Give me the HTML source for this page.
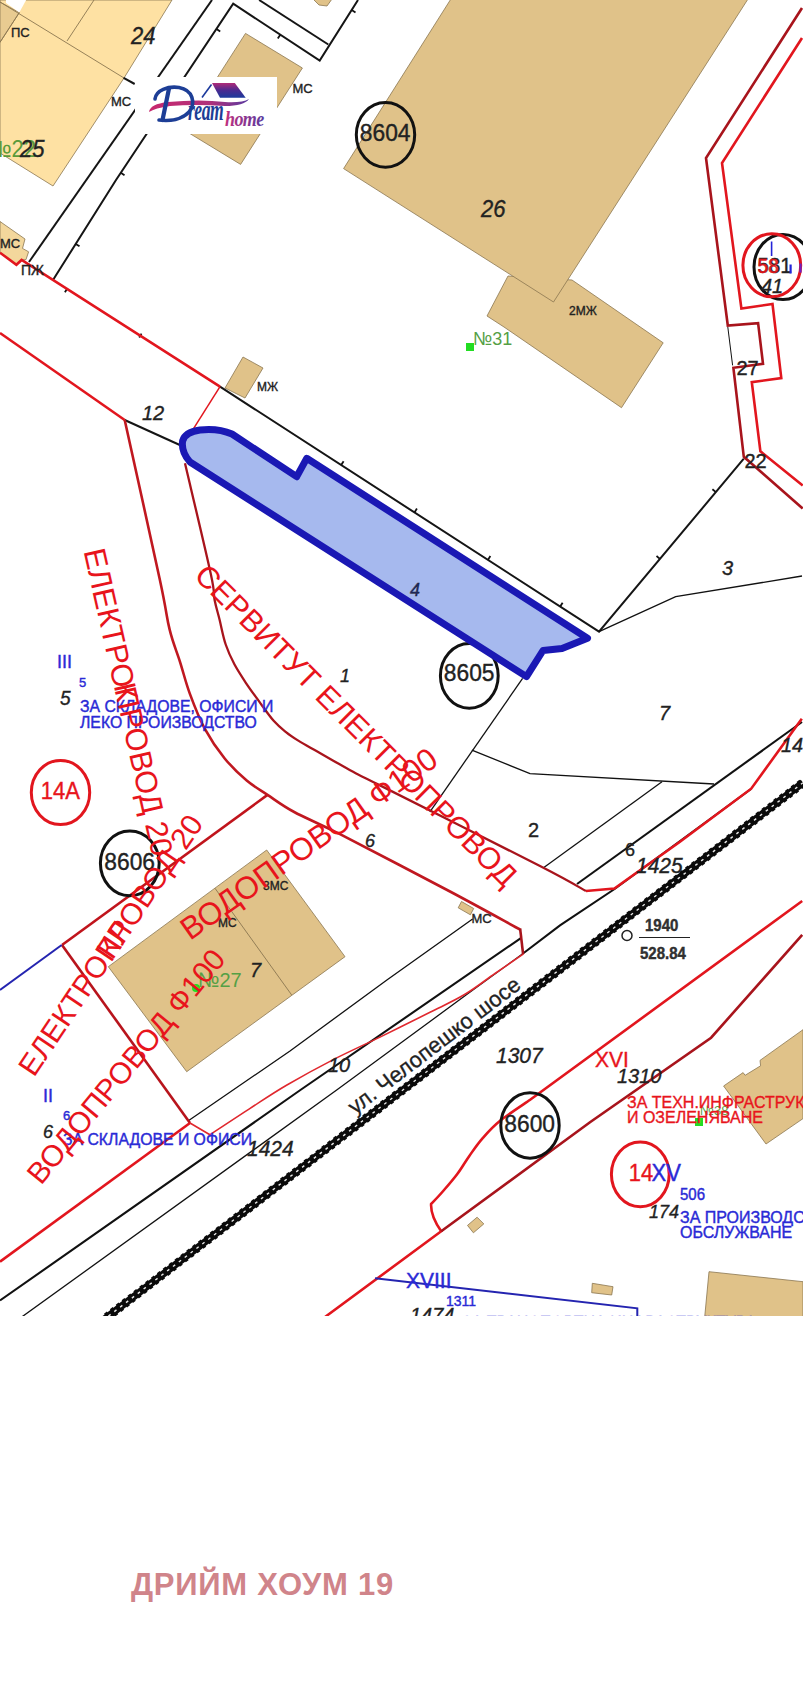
<!DOCTYPE html>
<html><head><meta charset="utf-8">
<style>
html,body{margin:0;padding:0;background:#fff;}
body{width:809px;height:1685px;position:relative;overflow:hidden;font-family:"Liberation Sans",sans-serif;}
#map{position:absolute;left:0;top:0;}
#title{position:absolute;left:0;top:1316px;}
</style></head><body>
<svg id="map" width="809" height="1316" viewBox="0 0 809 1316" font-family="Liberation Sans, sans-serif">
<rect x="0" y="0" width="809" height="1316" fill="#fff"/>
<g fill="#e0c289" stroke="#8a7650" stroke-width="0.8">
<polygon points="0,0 172,0 124,78 53,186 0,153" fill="#fee1a3"/>
<polygon points="0,2 19.3,12.6 0,42.3" fill="#e8cb91"/>
<polygon points="5.9,-1 26.7,-1 19.3,12.6 6,3" fill="#fff" stroke="none"/>
<polygon points="245.5,33.4 302.4,68 240.6,164.4 183.7,129.8"/>
<polygon points="313,-1 332,-1 327,6 319,5"/>
<polygon points="508,276 572,280 663.2,342.8 621.5,407.7 504,327 487,316"/>
<polygon points="450.9,-1 748,-1 553.5,302 343.6,168.6"/>
<polygon points="225,388 243,357 263,368 245,398"/>
<polygon points="458.2,907.8 461.5,901.5 473.7,908.5 470.4,914.8"/>
<polygon points="108.3,966.7 266.7,850 345,956.7 186.7,1071.7"/>
<polygon points="723.6,1086 743.1,1072.6 745.1,1075.3 760.6,1065.8 760,1060.4 803,1029.7 803,1118.6 766,1144"/>
<polygon points="467.5,1225.4 477.1,1217.2 483.8,1223.9 473.4,1232.8"/>
<polygon points="592.3,1283.3 613,1286.7 611.7,1295 591.7,1292.7"/>
<polygon points="709,1271.7 803,1281.7 803,1317 704.7,1317"/>
<polygon points="0,221.5 25,239 22.5,248.4 28.6,251.8 26,259.6 21.6,260 16.4,264.8 0,253" fill="#f3d79c"/>
</g>
<g stroke="#8a7650" stroke-width="0.9" fill="none">
<line x1="0" y1="2" x2="124" y2="78"/>
<line x1="94" y1="0" x2="67" y2="41"/>
<line x1="19.3" y1="12.6" x2="0" y2="42.3"/>
<line x1="215" y1="888.3" x2="291.7" y2="995"/>
</g>
<g stroke="#151515" stroke-width="2" fill="none" stroke-linejoin="miter">
<polyline points="212,0 29,262"/>
<polyline points="53,280 116,180 233.2,3.7 319.7,60.6 358,0"/>
<polyline points="259.1,0 328.3,44.5"/>
<line x1="123.6" y1="77.9" x2="134.7" y2="84"/>
<polyline points="220,386.7 599,631.7 743.8,458.7"/>
<line x1="124.7" y1="420" x2="182" y2="446"/>
</g>
<g stroke="#111" stroke-width="1.3" fill="none">
<polyline points="599,631.7 675.7,596.7 802,576"/>
<polyline points="522.6,678.4 429.9,811.9"/>
<polyline points="471.9,750.1 530,773.6 714,784"/>
<polyline points="543.5,867.7 662,781.7"/>
<polyline points="188,1121 290,1051 386.9,980 472.6,919"/>
<polyline points="21.7,1317 336.7,1090 430,1021.5 465,995.8 523.7,953"/>
</g>
<g stroke="#111" stroke-width="2.1" fill="none">
<polyline points="577,884 802,722"/>
<polyline points="0,1300.5 300.4,1090 520.5,938.3"/>
<polyline points="523.7,953 560,925.4 614.6,889 751,789"/>
</g>
<line x1="216.5" y1="28.9" x2="220.2" y2="31.4" stroke="#111" stroke-width="1.8"/>
<line x1="280.3" y1="34.7" x2="277.8" y2="38.5" stroke="#111" stroke-width="1.8"/>
<line x1="351.7" y1="10.0" x2="355.5" y2="12.4" stroke="#111" stroke-width="1.8"/>
<line x1="120.8" y1="172.8" x2="124.5" y2="175.3" stroke="#111" stroke-width="1.8"/>
<line x1="75.7" y1="243.9" x2="79.5" y2="246.3" stroke="#111" stroke-width="1.8"/>
<line x1="341.2" y1="465.0" x2="343.6" y2="461.2" stroke="#111" stroke-width="1.8"/>
<line x1="414.5" y1="512.4" x2="416.9" y2="508.6" stroke="#111" stroke-width="1.8"/>
<line x1="487.9" y1="559.9" x2="490.4" y2="556.1" stroke="#111" stroke-width="1.8"/>
<line x1="560.2" y1="606.6" x2="562.6" y2="602.8" stroke="#111" stroke-width="1.8"/>
<line x1="659.9" y1="558.9" x2="656.5" y2="556.0" stroke="#111" stroke-width="1.8"/>
<line x1="715.9" y1="492.1" x2="712.4" y2="489.2" stroke="#111" stroke-width="1.8"/>
<line x1="64.9" y1="292.2" x2="67.3" y2="288.4" stroke="#111" stroke-width="1.8"/>
<line x1="139.2" y1="337.5" x2="141.5" y2="333.6" stroke="#111" stroke-width="1.8"/>
<line x1="95" y1="1326.4" x2="803" y2="782.7" stroke="#0a0a0a" stroke-width="7.2"/>
<line x1="95" y1="1326.4" x2="803" y2="782.7" stroke="#0a0a0a" stroke-width="9" stroke-dasharray="3.6,3.8"/>
<line x1="95" y1="1326.4" x2="803" y2="782.7" stroke="#e8e8e8" stroke-width="1.4" stroke-dasharray="2.8,4.6" stroke-dashoffset="-2.1"/>
<g stroke="#e2161e" stroke-width="2.6" fill="none">
<polyline points="0,252.7 16.4,264.8 21.6,260 220,386.7"/>
<polyline points="220,386.7 191,432.6" stroke-width="1.5"/>
<polyline points="0,333 124.7,420"/>
<polyline points="62,945 267.5,794.9" stroke="#c0141c"/>
<polyline points="62,945 190,1123" stroke="#b8141c"/>
<polyline points="0,1261.7 190,1123"/>
<polyline points="585.9,891 614.4,888.5 680,841.7 751.2,788.7 801.8,718.7"/>
<path d="M190,1123 L209.9,1134.7 C216.5,1130.4 236.6,1117.0 249.4,1108.8 C262.2,1100.6 272.5,1093.5 286.5,1085.3 C300.5,1077.1 317.7,1067.6 333.3,1059.6 C348.9,1051.6 363.9,1045.0 380.0,1037.1 C396.1,1029.2 415.8,1019.4 430.0,1012.3 C444.2,1005.2 454.2,1000.8 465.0,994.3 C475.8,987.8 485.2,980.2 495.0,973.5 C504.8,966.8 518.8,957.1 523.5,953.8" stroke-width="1.6" stroke="#e0282e"/>
<path d="M802.2,901 L529.8,1100 C524.8,1103.5 508.0,1114.4 500.1,1120.8 C492.2,1127.2 487.5,1132.7 482.3,1138.6 C477.1,1144.5 473.2,1150.5 469.0,1156.4 C464.8,1162.3 461.6,1168.3 457.1,1174.2 C452.7,1180.1 446.6,1187.0 442.3,1192.0 C438.0,1197.0 433.0,1202.0 431.1,1204.0 Q430.5,1216 441.2,1231.3 L325,1317"/>
<polyline points="802,38 722,163 741.4,308.5 772.5,304 781.3,378.1 751.8,382.1 760.4,451.3 802.7,485.4"/>
</g>
<g stroke="#a8141c" stroke-width="2.6" fill="none">
<path d="M124.7,420.0 C130.6,446.7 152.4,545.1 159.9,580.0 C167.4,614.9 166.2,615.8 169.6,629.4 C172.9,643.0 176.6,651.0 180.0,661.8 C183.4,672.5 185.8,682.8 189.9,693.9 C194.0,705.0 198.9,717.9 204.7,728.6 C210.5,739.3 217.5,749.6 224.5,758.2 C231.5,766.9 239.5,774.4 246.7,780.5 C253.9,786.6 259.6,789.6 267.5,794.9 C275.4,800.1 282.1,805.5 294.2,812.0 C306.3,818.5 314.0,821.0 340.0,834.2 C366.0,847.5 420.0,875.6 450.0,891.5 C480.0,907.4 508.4,923.2 520.1,929.5" stroke="#c01820"/>
<polyline points="520.1,928.5 523.1,954.2"/>
<path d="M185.0,463.3 C189.3,481.8 205.9,551.2 210.8,574.0 C215.7,596.8 213.1,592.4 214.6,600.0 C216.1,607.6 217.8,612.4 219.6,619.8 C221.4,627.2 223.2,637.1 225.7,644.5 C228.2,651.9 230.9,657.7 234.4,664.3 C237.9,670.9 242.6,677.9 246.7,684.1 C250.8,690.3 254.6,695.2 259.1,701.4 C263.6,707.6 269.4,716.0 273.9,721.1 C278.4,726.2 282.2,729.0 286.3,732.3 C290.4,735.6 293.8,737.8 298.7,740.9 C303.6,744.0 310.2,747.5 316.0,750.8 C321.8,754.1 327.1,757.2 333.3,760.7 C339.5,764.2 345.3,767.7 353.1,771.8 C360.9,775.9 348.9,769.7 380.0,785.4 C411.1,801.1 505.7,848.4 540.0,866.0 C574.3,883.6 578.2,886.8 585.9,891.0" stroke-width="2.3"/>
<polyline points="441.2,1231.3 590,1122.3 711.1,1037.7 802.2,934.9"/>
<polyline points="802,8 706,158 727.8,325.5 758.1,323.1 763,363.8 733.4,367.8 743.8,456.8 802.7,508.4"/>
</g>
<line x1="727.8" y1="327" x2="732.6" y2="365.4" stroke="#111" stroke-width="1"/>
<g stroke="#2424b0" stroke-width="2" fill="none">
<polyline points="0,990 61.7,945"/>
<polyline points="375,1278.3 637.3,1308.3 637.3,1317"/>
</g>
<g fill="none" stroke="#111" stroke-width="3">
<ellipse cx="385.5" cy="134.8" rx="29.2" ry="32.4"/>
<ellipse cx="469.3" cy="675.8" rx="28.9" ry="32.4"/>
<ellipse cx="129.8" cy="863.3" rx="29.4" ry="32.4"/>
<ellipse cx="530" cy="1125.5" rx="29.2" ry="32.7"/>
<ellipse cx="783" cy="267" rx="29" ry="32.5"/>
</g>
<path d="M182.6,441 Q185,432 200,430 Q218,428 232,434 L296.7,476.7 L306.7,458.3 L587.5,638.3 L562,648.5 L543,650.5 L526.5,676.6 L190,462 Q181,452 182.6,441 Z" fill="#a6b9ee" stroke="#1a18b4" stroke-width="7" stroke-linejoin="round"/>
<g fill="none" stroke="#e2161e" stroke-width="3">
<ellipse cx="60.5" cy="792.5" rx="29.2" ry="32.1"/>
<ellipse cx="640.3" cy="1174.3" rx="28.9" ry="32.4"/>
<ellipse cx="771.8" cy="265.3" rx="28.9" ry="31.5"/>
</g>
<!-- TEXTS -->
<g font-family="Liberation Sans, sans-serif" fill="#222" stroke="#222" stroke-width="0.35">
  <text x="11" y="37" font-size="13" transform="matrix(1,0,0,1.050,0,-1.85)">ПС</text>
  <text x="131" y="44.5" font-size="22" font-style="italic" transform="matrix(1,0,0,1.050,0,-2.23)">24</text>
  <text x="111" y="106" font-size="13" transform="matrix(1,0,0,1.050,0,-5.30)">МС</text>
  <text x="-12" y="157" font-size="22" fill="#5a9a3a" stroke="none" transform="matrix(1,0,0,1.050,0,-7.85)">№22</text>
  <text x="20" y="157" font-size="22" font-style="italic" transform="matrix(1,0,0,1.050,0,-7.85)">25</text>
  <text x="0" y="248" font-size="13" transform="matrix(1,0,0,1.050,0,-12.40)">МС</text>
  <text x="21" y="275" font-size="14" transform="matrix(1,0,0,1.050,0,-13.75)">ПЖ</text>
  <text x="292.5" y="92.7" font-size="13" transform="matrix(1,0,0,1.050,0,-4.64)">МС</text>
  <text x="359.8" y="141.5" font-size="22.8" transform="matrix(1,0,0,1.050,0,-7.08)">8604</text>
  <text x="481" y="217" font-size="22" font-style="italic" transform="matrix(1,0,0,1.050,0,-10.85)">26</text>
  <text x="569" y="315" font-size="12" transform="matrix(1,0,0,1.050,0,-15.75)">2МЖ</text>
  <text x="473" y="345" font-size="18" fill="#55a045" stroke="none" transform="matrix(1,0,0,1.050,0,-17.25)">№31</text>
  <text x="257" y="391" font-size="12" transform="matrix(1,0,0,1.050,0,-19.55)">МЖ</text>
  <text x="142" y="420" font-size="20" font-style="italic" transform="matrix(1,0,0,1.050,0,-21.00)">12</text>
  <text x="410" y="596" font-size="18" font-style="italic" fill="#1c2866" transform="matrix(1,0,0,1.050,0,-29.80)">4</text>
  <text x="340" y="682" font-size="18" font-style="italic" transform="matrix(1,0,0,1.050,0,-34.10)">1</text>
  <text x="443.8" y="681.5" font-size="22.8" transform="matrix(1,0,0,1.050,0,-34.08)">8605</text>
  <text x="722" y="575" font-size="20" font-style="italic" transform="matrix(1,0,0,1.050,0,-28.75)">3</text>
  <text x="659" y="720" font-size="20" font-style="italic" transform="matrix(1,0,0,1.050,0,-36.00)">7</text>
  <text x="744.5" y="468" font-size="20" transform="matrix(1,0,0,1.050,0,-23.40)">22</text>
  <text x="736.5" y="375" font-size="20" transform="matrix(1,0,0,1.050,0,-18.75)">27</text>
  <text x="781" y="752" font-size="20" font-style="italic" transform="matrix(1,0,0,1.050,0,-37.60)">14</text>
  <text x="528" y="837" font-size="20" transform="matrix(1,0,0,1.050,0,-41.85)">2</text>
  <text x="365" y="847" font-size="18" font-style="italic" transform="matrix(1,0,0,1.050,0,-42.35)">6</text>
  <text x="625" y="856" font-size="18" transform="matrix(1,0,0,1.050,0,-42.80)">6</text>
  <text x="636" y="873" font-size="21" font-style="italic" transform="matrix(1,0,0,1.050,0,-43.65)">1425</text>
  <text x="645" y="931" font-size="15" font-weight="bold" fill="#333" transform="matrix(1,0,0,1.050,0,-46.55)">1940</text>
  <line x1="639" y1="937.5" x2="690" y2="937.5" stroke="#222" stroke-width="1"/>
  <text x="640" y="959" font-size="15" font-weight="bold" fill="#333" transform="matrix(1,0,0,1.050,0,-47.95)">528.84</text>
  <circle cx="627" cy="935.5" r="5" fill="none" stroke="#222" stroke-width="1.5"/>
  <text x="60" y="705" font-size="19" font-style="italic" transform="matrix(1,0,0,1.050,0,-35.25)">5</text>
  <text x="104.3" y="870.5" font-size="22.8" transform="matrix(1,0,0,1.050,0,-43.53)">8606</text>
  <text x="263" y="890" font-size="12" transform="matrix(1,0,0,1.050,0,-44.50)">3МС</text>
  <text x="218" y="927" font-size="12" transform="matrix(1,0,0,1.050,0,-46.35)">МС</text>
  <text x="250" y="977" font-size="20" font-style="italic" transform="matrix(1,0,0,1.050,0,-48.85)">7</text>
  <text x="198" y="987" font-size="20" fill="#55a045" stroke="none" transform="matrix(1,0,0,1.050,0,-49.35)">№27</text>
  <circle cx="196" cy="988" r="4" fill="#22dd22" stroke="none"/>
  <text x="471.5" y="923.5" font-size="13" transform="matrix(1,0,0,1.050,0,-46.18)">МС</text>
  <text x="43" y="1138" font-size="18" font-style="italic" transform="matrix(1,0,0,1.050,0,-56.90)">6</text>
  <text x="328" y="1072" font-size="20" font-style="italic" transform="matrix(1,0,0,1.050,0,-53.60)">10</text>
  <text x="247" y="1156" font-size="21" font-style="italic" transform="matrix(1,0,0,1.050,0,-57.80)">1424</text>
  <text x="496" y="1063" font-size="21" font-style="italic" transform="matrix(1,0,0,1.050,0,-53.15)">1307</text>
  <text x="504.3" y="1132" font-size="22.8" transform="matrix(1,0,0,1.050,0,-56.60)">8600</text>
  <text x="617" y="1083" font-size="20" font-style="italic" transform="matrix(1,0,0,1.050,0,-54.15)">1310</text>
  <text x="649" y="1218" font-size="18" font-style="italic" transform="matrix(1,0,0,1.050,0,-60.90)">174</text>
  <text x="410" y="1322" font-size="20" font-style="italic" transform="matrix(1,0,0,1.050,0,-66.10)">1474</text>
  <text transform="translate(355,1115) rotate(-37.3)" font-size="22">ул. Челопешко шосе</text>
  <text x="700" y="1115" font-size="13" fill="#55a045" stroke="none" transform="matrix(1,0,0,1.050,0,-55.75)">№38</text>
  <rect x="695" y="1118" width="8" height="8" fill="#22dd22" stroke="none"/>
  <rect x="466" y="343" width="8" height="8" fill="#22dd22" stroke="none"/>
  <text x="757.5" y="272.6" font-size="20.5" transform="matrix(1,0,0,1.050,0,-13.63)">581</text>
  <text x="761" y="293.5" font-size="20" font-style="italic" transform="matrix(1,0,0,1.050,0,-14.68)">41</text>
</g>
<g font-family="Liberation Sans, sans-serif" fill="#2a2ad6" stroke="#2a2ad6" stroke-width="0.4">
  <text x="57" y="668" font-size="18" transform="matrix(1,0,0,1.050,0,-33.40)">III</text>
  <text x="79" y="687" font-size="13" transform="matrix(1,0,0,1.050,0,-34.35)">5</text>
  <text x="80" y="712" font-size="15.8" transform="matrix(1,0,0,1.050,0,-35.60)">ЗА СКЛАДОВЕ, ОФИСИ И</text>
  <text x="80" y="728" font-size="15.8" transform="matrix(1,0,0,1.050,0,-36.40)">ЛЕКО ПРОИЗВОДСТВО</text>
  <text x="43" y="1102" font-size="18" transform="matrix(1,0,0,1.050,0,-55.10)">II</text>
  <text x="63" y="1120" font-size="13" transform="matrix(1,0,0,1.050,0,-56.00)">6</text>
  <text x="63" y="1145" font-size="15.8" transform="matrix(1,0,0,1.050,0,-57.25)">ЗА СКЛАДОВЕ И ОФИСИ</text>
  <text x="651.5" y="1181" font-size="22" transform="matrix(1,0,0,1.050,0,-59.05)">XV</text>
  <text x="680" y="1200" font-size="15" transform="matrix(1,0,0,1.050,0,-60.00)">506</text>
  <text x="680" y="1223" font-size="16" transform="matrix(1,0,0,1.050,0,-61.15)">ЗА ПРОИЗВОДС</text>
  <text x="680" y="1238.5" font-size="16" transform="matrix(1,0,0,1.050,0,-61.93)">ОБСЛУЖВАНЕ</text>
  <text x="406" y="1288" font-size="21" transform="matrix(1,0,0,1.050,0,-64.40)">XVIII</text>
  <text x="446" y="1306.5" font-size="14" transform="matrix(1,0,0,1.050,0,-65.33)">1311</text>
  <text x="462" y="1327.6" font-size="16" fill="#aab4ea" transform="matrix(1,0,0,1.050,0,-66.38)">ЗА ТРАНСПОРТНА ИНФРАСТРУКТУРА</text>
  <line x1="771.6" y1="241.5" x2="771.6" y2="256" stroke="#2323d8" stroke-width="1.6"/>
  <line x1="790.6" y1="264.5" x2="790.6" y2="273.5" stroke="#2323d8" stroke-width="2.2"/>
  <line x1="800.5" y1="263.5" x2="800.5" y2="272.6" stroke="#7020c0" stroke-width="2.2"/>
</g>
<g font-family="Liberation Sans, sans-serif" fill="#e8141c">
  <text x="40.8" y="799.5" font-size="22" stroke="#e8141c" stroke-width="0.35" transform="matrix(1,0,0,1.050,0,-39.98)">14А</text>
  <text x="628.7" y="1181" font-size="22" stroke="#e8141c" stroke-width="0.35" transform="matrix(1,0,0,1.050,0,-59.05)">14</text>
  <text x="595" y="1067" font-size="21" stroke="#e8141c" stroke-width="0.35" transform="matrix(1,0,0,1.050,0,-53.35)">XVI</text>
  <text x="627" y="1108" font-size="16" stroke="#e8141c" stroke-width="0.35" transform="matrix(1,0,0,1.050,0,-55.40)">ЗА ТЕХН.ИНФРАСТРУК</text>
  <text x="627" y="1123.5" font-size="16" stroke="#e8141c" stroke-width="0.35" transform="matrix(1,0,0,1.050,0,-56.18)">И ОЗЕЛЕНЯВАНЕ</text>
  <text x="757.5" y="272.6" font-size="19" stroke="#e8141c" stroke-width="0.3" fill-opacity="0.9" transform="matrix(1,0,0,1.050,0,-13.63)">58</text>
  <text transform="translate(83.4,551) rotate(77.3)" font-size="30.8">ЕЛЕКТРОПРОВОД 20</text>
  <text transform="translate(83.4,551) rotate(77.3)" font-size="30.8"><tspan fill-opacity="0">ЕЛЕКТРО</tspan><tspan dx="-4">К</tspan></text>
  <text transform="translate(193,577) rotate(45)" font-size="30.6">СЕРВИТУТ ЕЛЕКТРОПРОВОД</text>
  <text transform="translate(190,941) rotate(-35.3)" font-size="31.4">ВОДОПРОВОД Ф100</text>
  <text transform="translate(34,1078) rotate(-56.2)" font-size="30">ЕЛЕКТРОПРОВОД 20</text>
  <text transform="translate(34,1078) rotate(-56.2)" font-size="30"><tspan fill-opacity="0">ЕЛЕКТРО</tspan><tspan dx="3">КЛ</tspan></text>
  <text transform="translate(41,1186) rotate(-50.6)" font-size="30">ВОДОПРОВОД Ф100</text>
</g>

<!-- LOGO -->
<defs>
  <linearGradient id="roofg" x1="0" y1="0" x2="0" y2="1">
    <stop offset="0" stop-color="#b02a78"/>
    <stop offset="0.5" stop-color="#4a2a90"/>
    <stop offset="1" stop-color="#1c3a9c"/>
  </linearGradient>
  <linearGradient id="swg" x1="0" y1="0" x2="1" y2="0">
    <stop offset="0" stop-color="#c8286e"/>
    <stop offset="0.6" stop-color="#b0307a"/>
    <stop offset="1" stop-color="#5a3aa0"/>
  </linearGradient>
  <linearGradient id="homeg" x1="0" y1="0" x2="1" y2="0">
    <stop offset="0" stop-color="#c0307e"/>
    <stop offset="1" stop-color="#5a3aa0"/>
  </linearGradient>
</defs>
<rect x="135" y="77" width="142" height="57" fill="#fff"/>
<polygon points="212,83 234.8,83 245.7,97.7 220,97.7" fill="url(#roofg)"/>
<line x1="202" y1="97.5" x2="211.5" y2="84.5" stroke="#1c3a9c" stroke-width="1.6"/>
<path d="M149,112 Q150,104 168,102 Q200,99 225,102 Q242,103 249,99 Q244,106 225,106 Q195,104 170,106 Q155,108 149,112 Z" fill="url(#swg)"/>
<path d="M155,99 C156,90 168,86 179,87.5 C193,90 196,103 189,112 C182,119.5 170,121.5 159,120" fill="none" stroke="#1d3e96" stroke-width="3.6" stroke-linecap="round"/>
<path d="M169,88.5 L162.5,120" fill="none" stroke="#1d3e96" stroke-width="4.2" stroke-linecap="round"/>
<text x="188" y="120" font-family="Liberation Serif, serif" font-style="italic" font-weight="bold" font-size="22" fill="#1d3e96" letter-spacing="-0.6" transform="matrix(0.8,0,0,1.3,37.6,-36)">ream</text>
<text x="225" y="126" font-family="Liberation Serif, serif" font-style="italic" font-weight="bold" font-size="18" fill="url(#homeg)" letter-spacing="-0.6" transform="matrix(1,0,0,1.2,0,-25.2)">home</text>

<rect x="803" y="0" width="6" height="1316" fill="#fff"/>
</svg>
<svg id="title" width="809" height="369" viewBox="0 1316 809 369"><text x="131" y="1594.8" font-family="Liberation Sans, sans-serif" font-weight="bold" font-size="31" letter-spacing="0.75" fill="#d0848a">ДРИЙМ ХОУМ 19</text></svg>
</body></html>
